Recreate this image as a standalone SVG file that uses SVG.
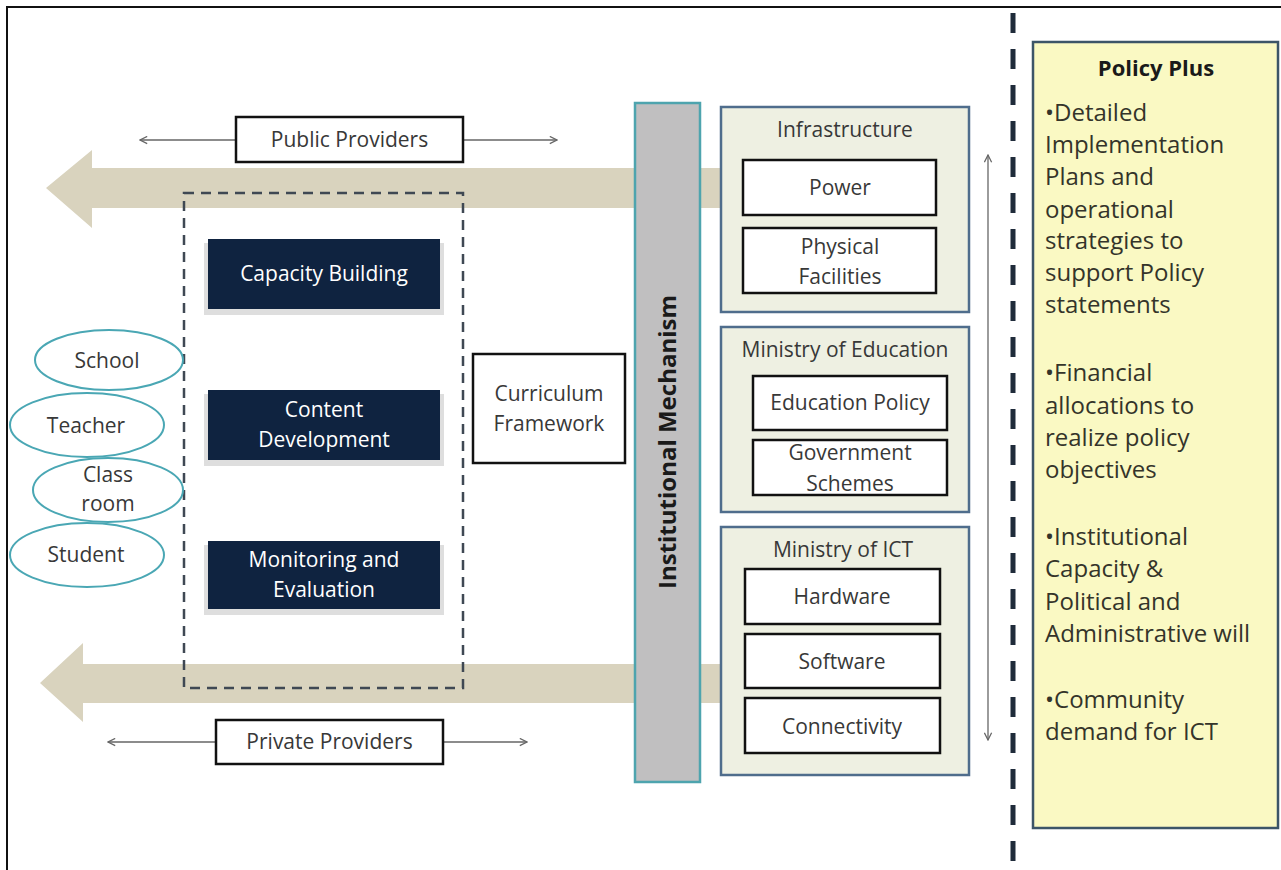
<svg xmlns="http://www.w3.org/2000/svg" width="1281" height="870" viewBox="0 0 1281 870">
<defs>
<marker id="ah" viewBox="0 0 10 10" refX="9" refY="5" markerWidth="9" markerHeight="9" markerUnits="userSpaceOnUse" orient="auto-start-reverse">
<path d="M1,1 L9,5 L1,9" fill="none" stroke="#666" stroke-width="1.4"/>
</marker>
<style>
.lbl{font-family:"Open Sans","Liberation Sans",sans-serif;font-size:21px;fill:#383838;text-anchor:middle}
.wlbl{font-family:"Open Sans","Liberation Sans",sans-serif;font-size:21px;fill:#ffffff;text-anchor:middle}
.wbox{fill:#ffffff;stroke:#111;stroke-width:2.5}
.dbox{fill:#0f2340}
.shadow{fill:#dedede}
.grp{fill:#eef0e2;stroke:#4f6d8c;stroke-width:2.5}
.ell{fill:#ffffff;stroke:#4aa7b4;stroke-width:2}
.thin{stroke:#666;stroke-width:1.3;fill:none}
.band{fill:#d9d3be}
.pol{font-family:"Open Sans","Liberation Sans",sans-serif;font-size:24px;fill:#34342a}
</style>
</defs>
<rect width="1281" height="870" fill="#ffffff"/>
<path d="M7,870 V7 H1281" fill="none" stroke="#111" stroke-width="2"/>

<g id="connectors">
<polygon class="band" points="46,188 92,150 92,168 720,168 720,208 92,208 92,228"/>
<polygon class="band" points="40,683 83,643 83,664 720,664 720,703 83,703 83,722"/>
<line class="thin" x1="140" y1="140" x2="236" y2="140" marker-start="url(#ah)"/>
<line class="thin" x1="463" y1="140" x2="557" y2="140" marker-end="url(#ah)"/>
<line class="thin" x1="108" y1="742" x2="216" y2="742" marker-start="url(#ah)"/>
<line class="thin" x1="443" y1="742" x2="527" y2="742" marker-end="url(#ah)"/>
<line class="thin" x1="988" y1="155" x2="988" y2="740" stroke="#777" marker-start="url(#ah)" marker-end="url(#ah)"/>
</g>

<line x1="1013" y1="13" x2="1013" y2="870" stroke="#1f2b3a" stroke-width="5" stroke-dasharray="20 16"/>

<g id="public-providers">
<rect class="wbox" x="236" y="117" width="227" height="45"/>
<text class="lbl" x="349.5" y="147">Public Providers</text>
</g>
<g id="private-providers">
<rect class="wbox" x="216" y="720" width="227" height="44"/>
<text class="lbl" x="329.5" y="749">Private Providers</text>
</g>

<g id="dashed-group">
<rect x="184" y="193" width="279" height="495" fill="none" stroke="#3f4853" stroke-width="2.5" stroke-dasharray="10 7"/>
</g>

<g id="capacity-building">
<rect class="shadow" x="204" y="243" width="240" height="72"/>
<rect class="dbox" x="208" y="239" width="232" height="70"/>
<text class="wlbl" x="324" y="281">Capacity Building</text>
</g>
<g id="content-development">
<rect class="shadow" x="204" y="394" width="240" height="72"/>
<rect class="dbox" x="208" y="390" width="232" height="70"/>
<text class="wlbl" x="324" y="417">Content</text>
<text class="wlbl" x="324" y="447">Development</text>
</g>
<g id="monitoring-evaluation">
<rect class="shadow" x="204" y="545" width="240" height="70"/>
<rect class="dbox" x="208" y="541" width="232" height="68"/>
<text class="wlbl" x="324" y="567">Monitoring and</text>
<text class="wlbl" x="324" y="597">Evaluation</text>
</g>

<g id="school">
<ellipse class="ell" cx="109" cy="360" rx="74" ry="30"/>
<text class="lbl" x="107" y="368">School</text>
</g>
<g id="teacher">
<ellipse class="ell" cx="87" cy="425" rx="77" ry="32"/>
<text class="lbl" x="86" y="433">Teacher</text>
</g>
<g id="classroom">
<ellipse class="ell" cx="108" cy="490" rx="75" ry="32"/>
<text class="lbl" x="108" y="482">Class</text>
<text class="lbl" x="108" y="511">room</text>
</g>
<g id="student">
<ellipse class="ell" cx="87" cy="555" rx="77" ry="32"/>
<text class="lbl" x="86" y="562">Student</text>
</g>

<g id="curriculum-framework">
<rect class="wbox" x="473" y="354" width="152" height="109"/>
<text class="lbl" x="549" y="401">Curriculum</text>
<text class="lbl" x="549" y="431">Framework</text>
</g>

<g id="institutional-mechanism">
<rect x="635" y="103" width="65" height="679" fill="#c0bfc0" stroke="#4ea4ae" stroke-width="2.5"/>
<text transform="translate(676,442) rotate(-90)" x="0" y="0" font-family="'Open Sans','Liberation Sans',sans-serif" font-size="24" font-weight="bold" fill="#1a1a1a" text-anchor="middle">Institutional Mechanism</text>
</g>

<g id="infrastructure">
<rect class="grp" x="721" y="107" width="248" height="205"/>
<text class="lbl" x="845" y="137">Infrastructure</text>
<rect class="wbox" x="743" y="160" width="193" height="55"/>
<text class="lbl" x="840" y="195">Power</text>
<rect class="wbox" x="743" y="228" width="193" height="65"/>
<text class="lbl" x="840" y="254">Physical</text>
<text class="lbl" x="840" y="284">Facilities</text>
</g>

<g id="ministry-of-education">
<rect class="grp" x="721" y="327" width="248" height="185"/>
<text class="lbl" x="845" y="357">Ministry of Education</text>
<rect class="wbox" x="753" y="376" width="194" height="54"/>
<text class="lbl" x="850" y="410">Education Policy</text>
<rect class="wbox" x="753" y="440" width="194" height="55"/>
<text class="lbl" x="850" y="460">Government</text>
<text class="lbl" x="850" y="491">Schemes</text>
</g>

<g id="ministry-of-ict">
<rect class="grp" x="721" y="527" width="248" height="248"/>
<text class="lbl" x="843" y="557">Ministry of ICT</text>
<rect class="wbox" x="745" y="569" width="195" height="55"/>
<text class="lbl" x="842" y="604">Hardware</text>
<rect class="wbox" x="745" y="634" width="195" height="54"/>
<text class="lbl" x="842" y="669">Software</text>
<rect class="wbox" x="745" y="698" width="195" height="55"/>
<text class="lbl" x="842" y="734">Connectivity</text>
</g>

<g id="policy-plus">
<rect x="1033" y="42" width="245" height="786" fill="#faf9c3" stroke="#3c5568" stroke-width="2.5"/>
<text x="1156" y="76" font-family="'Open Sans','Liberation Sans',sans-serif" font-size="22" font-weight="bold" fill="#1a1a1a" text-anchor="middle">Policy Plus</text>
<text class="pol" x="1045" y="121">•Detailed</text>
<text class="pol" x="1045" y="153">Implementation</text>
<text class="pol" x="1045" y="185">Plans and</text>
<text class="pol" x="1045" y="218">operational</text>
<text class="pol" x="1045" y="249">strategies to</text>
<text class="pol" x="1045" y="281">support Policy</text>
<text class="pol" x="1045" y="313">statements</text>
<text class="pol" x="1045" y="381">•Financial</text>
<text class="pol" x="1045" y="414">allocations to</text>
<text class="pol" x="1045" y="446">realize policy</text>
<text class="pol" x="1045" y="478">objectives</text>
<text class="pol" x="1045" y="545">•Institutional</text>
<text class="pol" x="1045" y="577">Capacity &amp;</text>
<text class="pol" x="1045" y="610">Political and</text>
<text class="pol" x="1045" y="642">Administrative will</text>
<text class="pol" x="1045" y="708">•Community</text>
<text class="pol" x="1045" y="740">demand for ICT</text>
</g>
</svg>
